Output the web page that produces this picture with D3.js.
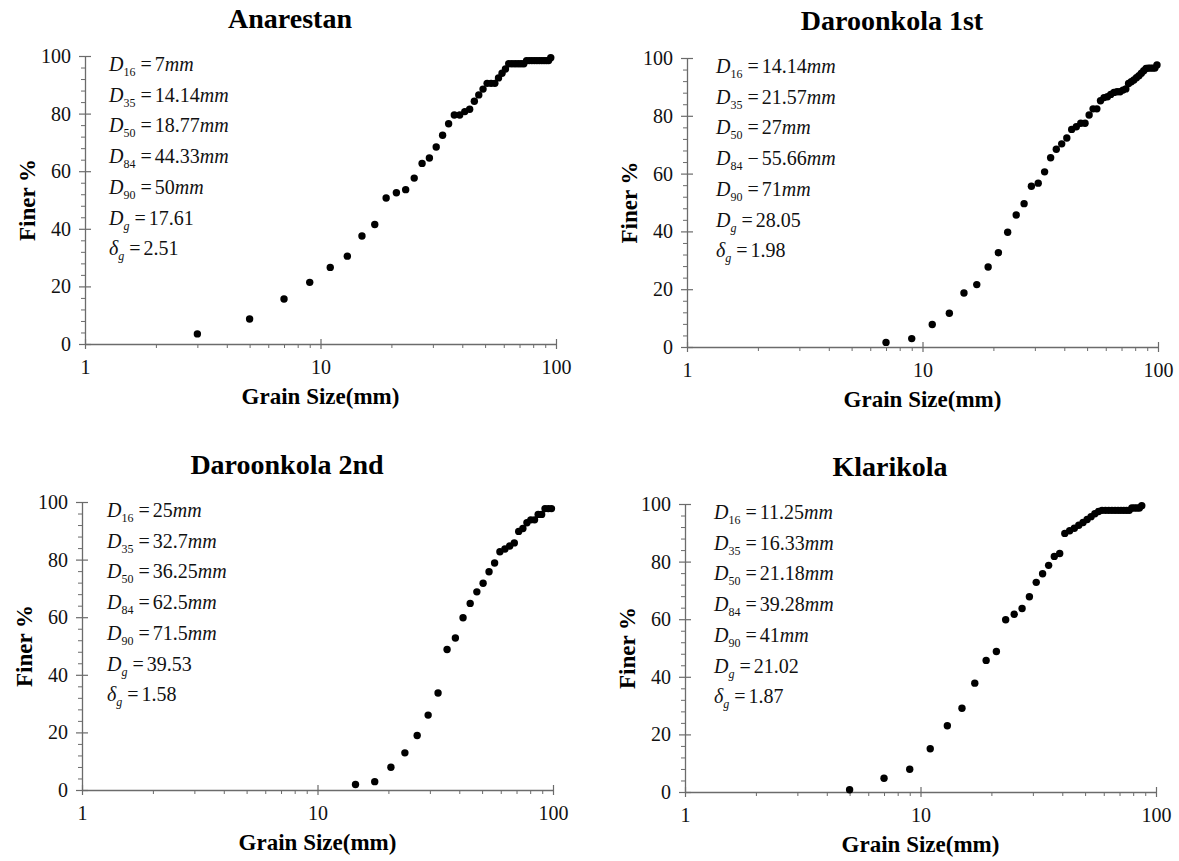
<!DOCTYPE html>
<html><head><meta charset="utf-8">
<script src="https://cdn.jsdelivr.net/npm/d3@7"></script>
<style>
html,body{margin:0;padding:0;background:#fff;}
svg{display:block;font-family:"Liberation Serif","Times New Roman",serif;}
</style></head><body>
<svg id="chart" width="1179" height="861"></svg>
<script>
// ---------- data ----------
const titles = ["Anarestan", "Daroonkola 1st", "Daroonkola 2nd", "Klarikola"];
const xTickValues = [1, 10, 100];
const yTickValues = [0, 20, 40, 60, 80, 100];
const xLabel = "Grain Size(mm)";
const yLabel = "Finer %";

const anarestanSize = [3,5,7,9,11,13,15,17,19,21,23,25,27,29,31,33,35,37,39,41,43,45,47,49,51,53,55,57,59,61,63,65,67,69,71,73,75,77,79,81,83,85,87,89,91,93,95];
const anarestanFiner = [3.5,8.7,15.6,21.4,26.6,30.5,37.5,41.5,50.7,52.5,53.6,57.6,62.7,64.6,68.4,72.5,76.5,79.5,79.5,80.7,81.5,84.3,86.5,88.5,90.5,90.5,90.5,92.4,94.0,95.5,97.3,97.3,97.3,97.3,97.3,97.3,98.4,98.4,98.4,98.4,98.4,98.4,98.4,98.4,98.4,98.4,99.4];

const daroon1Size = [7,9,11,13,15,17,19,21,23,25,27,29,31,33,35,37,39,41,43,45,47,49,51,53,55,57,59,61,63,65,67,69,71,73,75,77,79,81,83,85,87,89,91,93,95,97,99];
const daroon1Finer = [1.6,2.9,7.8,11.7,18.7,21.6,27.7,32.6,39.7,45.7,49.6,55.6,56.7,60.6,65.5,68.4,70.3,72.3,75.3,76.2,77.4,77.4,80.3,82.4,82.4,85.2,86.3,86.6,87.4,88.1,88.3,88.3,88.9,89.3,91.2,91.8,92.4,93.2,93.9,94.7,95.6,96.4,96.5,96.5,96.5,96.5,97.6];

const daroon2Size = [14.5,17.5,20.5,23.5,26.5,29.5,32.5,35.5,38.5,41.5,44.5,47.5,50.5,53.5,56.5,59.5,62.5,65.5,68.5,71.5,74.5,77.5,80.5,83.5,86.5,89.5,92.5,95.5,98.5];
const daroon2Finer = [1.9,2.9,7.9,12.9,18.9,26.0,33.7,48.8,52.8,59.8,64.8,68.8,71.8,75.8,78.8,82.7,83.7,84.7,85.8,89.8,90.8,92.8,93.8,93.8,95.7,95.7,97.7,97.7,97.7];

const klarikolaSize = [5,7,9,11,13,15,17,19,21,23,25,27,29,31,33,35,37,39,41,43,45,47,49,51,53,55,57,59,61,63,65,67,69,71,73,75,77,79,81,83,85,87];
const klarikolaFiner = [0.8,4.8,7.9,15.0,23.0,29.1,37.8,45.7,48.8,59.8,61.7,63.7,67.8,72.8,75.8,78.7,81.8,82.8,89.8,90.7,91.6,92.6,93.6,94.6,95.6,96.6,97.4,97.8,97.8,97.8,97.8,97.8,97.8,97.8,97.8,97.8,97.8,98.6,98.6,98.6,98.6,99.4];

const statSymbols = ["D","D","D","D","D","D","δ"];
const statSubs = ["16","35","50","84","90","g","g"];
const statUnits = ["mm","mm","mm","mm","mm","",""];
const anarestanStats = ["7","14.14","18.77","44.33","50","17.61","2.51"];
const daroon1Stats = ["14.14","21.57","27","55.66","71","28.05","1.98"];
const daroon2Stats = ["25","32.7","36.25","62.5","71.5","39.53","1.58"];
const klarikolaStats = ["11.25","16.33","21.18","39.28","41","21.02","1.87"];
const defaultSigns = ["=","=","=","=","=","=","="];
const daroon1Signs = ["=","=","=","−","=","=","="];

// ---------- layout ----------
const layout = [
  {left: 85,  right: 556,  bottom: 344, top: 56,  textDx: 24},
  {left: 687, right: 1158, bottom: 347, top: 58,  textDx: 29},
  {left: 82,  right: 553,  bottom: 790, top: 502, textDx: 25},
  {left: 685, right: 1156, bottom: 792, top: 504, textDx: 29}
];

const panels = [
  {title: titles[0], size: anarestanSize, finer: anarestanFiner, stats: anarestanStats, signs: defaultSigns},
  {title: titles[1], size: daroon1Size, finer: daroon1Finer, stats: daroon1Stats, signs: daroon1Signs},
  {title: titles[2], size: daroon2Size, finer: daroon2Finer, stats: daroon2Stats, signs: defaultSigns},
  {title: titles[3], size: klarikolaSize, finer: klarikolaFiner, stats: klarikolaStats, signs: defaultSigns}
];

const svg = d3.select("#chart");
const axisColor = "#6b6b6b";
const serif = "'Liberation Serif', 'Times New Roman', serif";

panels.forEach((p, i) => {
  const L = layout[i];
  const g = svg.append("g");
  const x = d3.scaleLog().domain([1, 100]).range([L.left, L.right]);
  const y = d3.scaleLinear().domain([0, 100]).range([L.bottom, L.top]);

  // title
  g.append("text").attr("x", L.left + 205).attr("y", L.top - 28)
    .attr("text-anchor", "middle").attr("font-size", 28).attr("font-weight", "bold")
    .text(p.title);

  // minor x ticks (outside)
  const xMinor = d3.range(2, 10).concat(d3.range(20, 100, 10));
  const xMinorAxis = d3.axisBottom(x).tickValues(xMinor).tickSize(4).tickFormat("");
  const gxm = g.append("g").attr("transform", `translate(0,${L.bottom})`).call(xMinorAxis);
  gxm.select(".domain").remove();
  gxm.selectAll("line").attr("stroke", axisColor).attr("stroke-width", 1);

  // major x ticks (cross)
  const xAxis = d3.axisBottom(x).tickValues(xTickValues).tickSize(0).tickPadding(0).tickFormat(d3.format("d"));
  const gx = g.append("g").attr("transform", `translate(0,${L.bottom})`).call(xAxis);
  gx.attr("font-family", serif);
  gx.select(".domain").attr("stroke", axisColor).attr("stroke-width", 1.3);
  gx.selectAll(".tick line").attr("y1", -5).attr("y2", 5).attr("stroke", axisColor).attr("stroke-width", 1.2);
  gx.selectAll(".tick text").attr("y", 30).attr("dy", 0).attr("font-size", 20)
    .attr("font-family", serif).attr("fill", "#111");

  // minor y ticks
  const yMinor = d3.range(0, 101, 4).filter(v => v % 20 !== 0);
  const yMinorAxis = d3.axisLeft(y).tickValues(yMinor).tickSize(4).tickFormat("");
  const gym = g.append("g").attr("transform", `translate(${L.left},0)`).call(yMinorAxis);
  gym.select(".domain").remove();
  gym.selectAll("line").attr("stroke", axisColor).attr("stroke-width", 1);

  // major y ticks
  const yAxis = d3.axisLeft(y).tickValues(yTickValues).tickSize(0).tickPadding(14);
  const gy = g.append("g").attr("transform", `translate(${L.left},0)`).call(yAxis);
  gy.attr("font-family", serif);
  gy.select(".domain").attr("stroke", axisColor).attr("stroke-width", 1.3);
  gy.selectAll(".tick line").attr("x1", -6).attr("x2", 6).attr("stroke", axisColor).attr("stroke-width", 1.2);
  gy.selectAll(".tick text").attr("font-size", 20).attr("font-family", serif).attr("fill", "#111");

  // axis titles
  g.append("text").attr("x", (L.left + L.right) / 2).attr("y", L.bottom + 60)
    .attr("text-anchor", "middle").attr("font-size", 23).attr("font-weight", "bold").text(xLabel);
  g.append("text").attr("transform", `translate(${L.left - 50},${(L.top + L.bottom) / 2}) rotate(-90)`)
    .attr("text-anchor", "middle").attr("font-size", 23).attr("font-weight", "bold").text(yLabel);

  // stats annotation
  p.stats.forEach((val, k) => {
    const t = g.append("text").attr("x", L.left + L.textDx).attr("y", L.top + 15 + k * 30.7)
      .attr("font-size", 20).attr("fill", "#111");
    t.append("tspan").attr("font-style", "italic").text(statSymbols[k]);
    t.append("tspan").attr("font-size", 12).attr("dy", 5)
      .attr("font-style", statSubs[k] === "g" ? "italic" : "normal").text(statSubs[k]);
    t.append("tspan").attr("dy", -5).attr("dx", 5).text(p.signs[k]);
    t.append("tspan").attr("dx", 3).text(val);
    if (statUnits[k]) t.append("tspan").attr("font-style", "italic").text(statUnits[k]);
  });

  // points
  g.append("g").selectAll("circle").data(p.size.map((s, k) => [s, p.finer[k]]))
    .join("circle").attr("cx", d => x(d[0])).attr("cy", d => y(d[1]))
    .attr("r", 3.7).attr("fill", "#000");
});
</script>
</body></html>
